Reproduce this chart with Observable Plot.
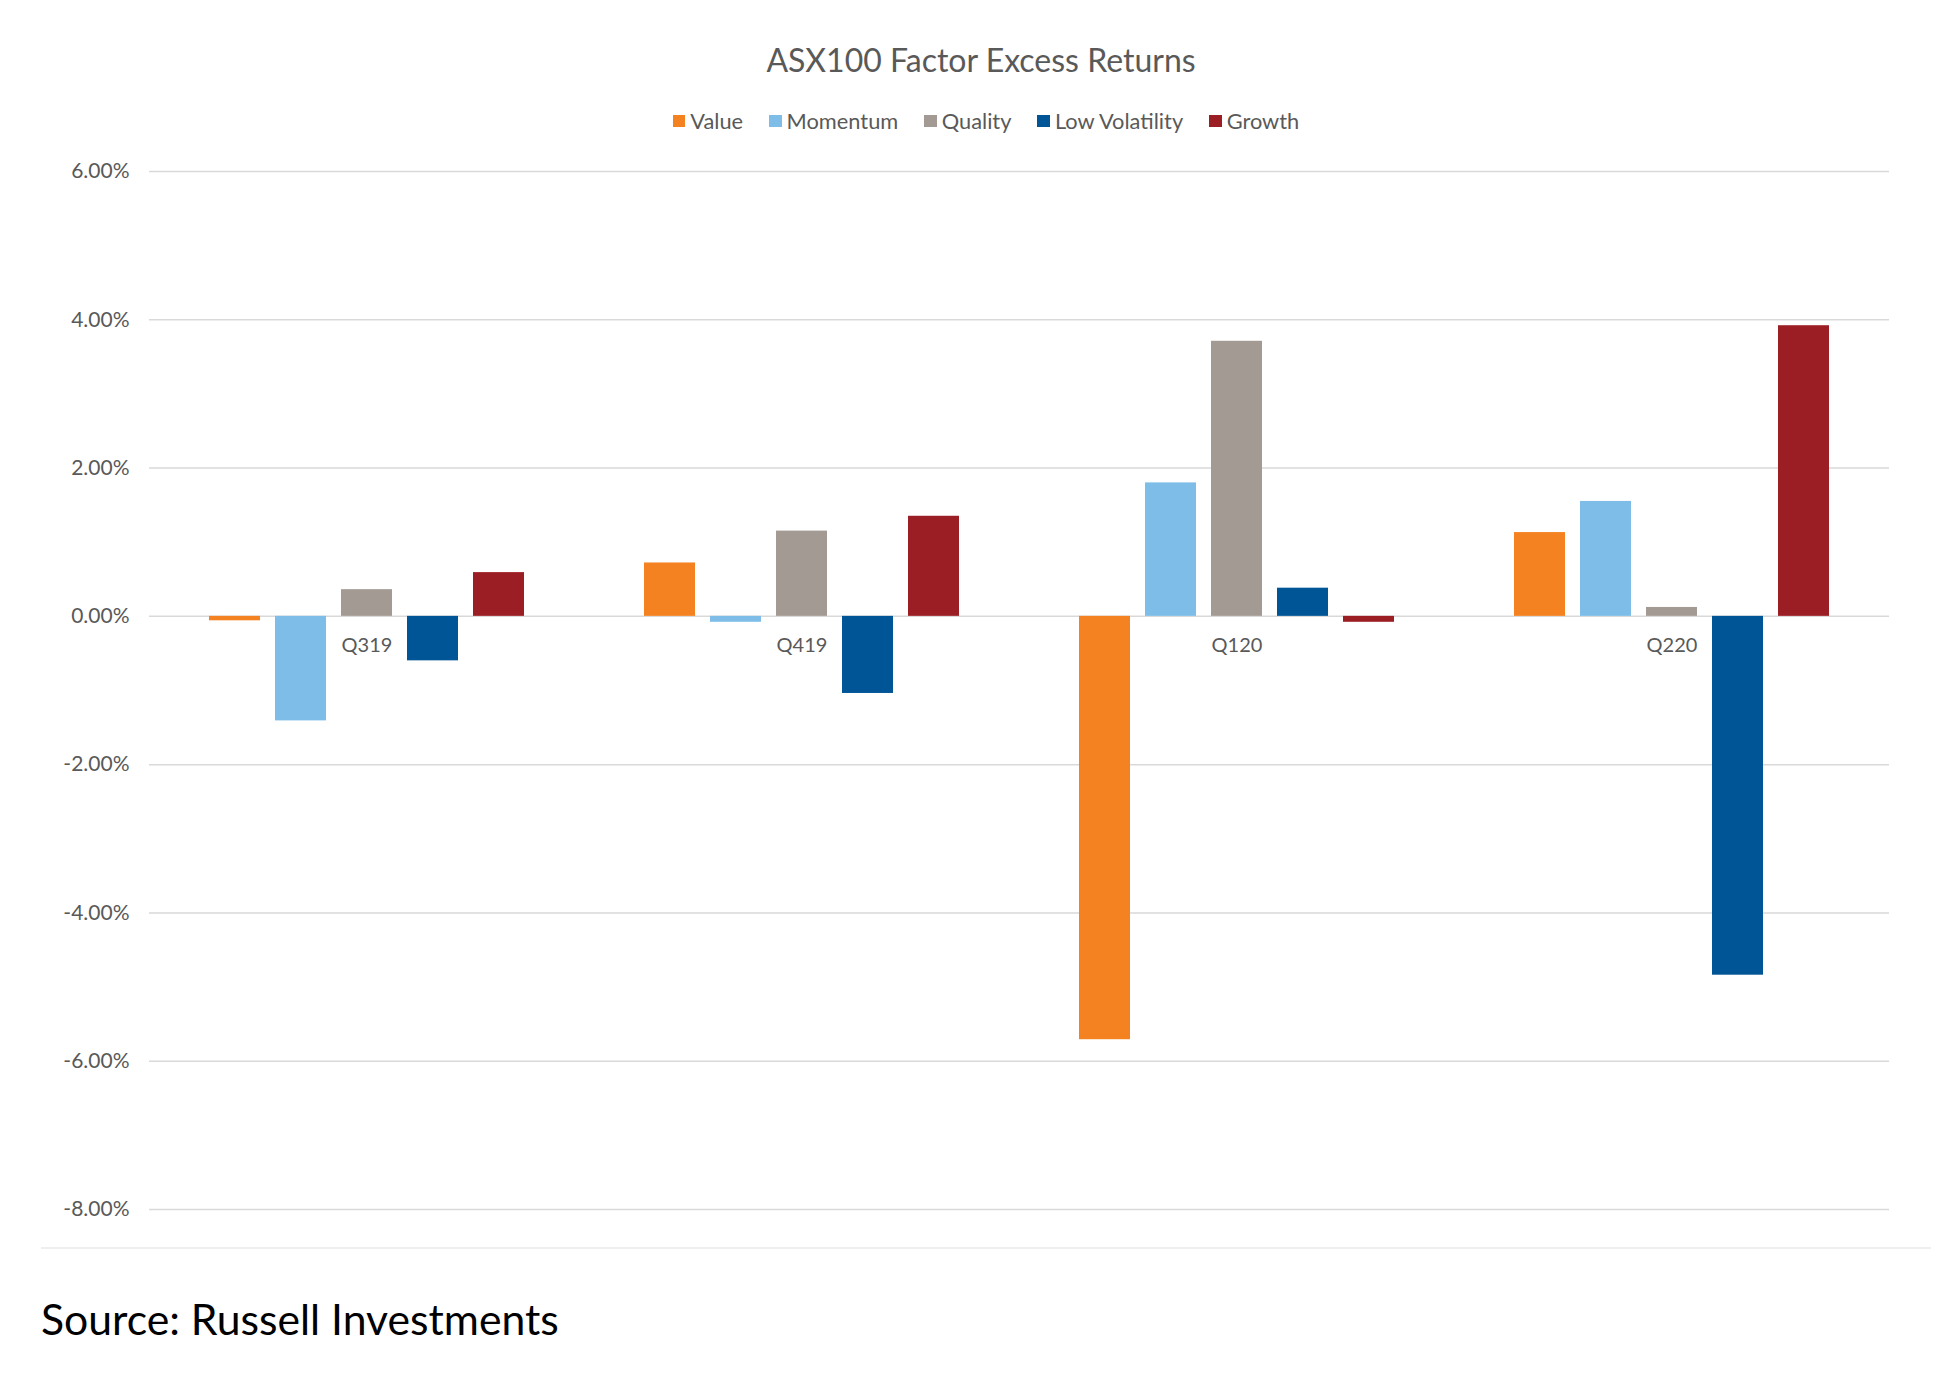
<!DOCTYPE html>
<html>
<head>
<meta charset="utf-8">
<script src="https://cdn.jsdelivr.net/npm/d3@7"></script>
<script src="https://cdn.jsdelivr.net/npm/@observablehq/plot@0.6"></script>
<style>
  html, body { margin: 0; padding: 0; background: #fff; }
  body { width: 1950px; height: 1395px; position: relative; font-family: Lato, "Open Sans", sans-serif; overflow: hidden; }
  #title { position: absolute; left: 36px; width: 1890px; top: 42px; text-align: center; font-size: 32px; line-height: 36px; color: #595959; }
  #legend { position: absolute; left: 41px; width: 1890px; top: 108px; display: flex; justify-content: center; gap: 26px; font-size: 21.8px; line-height: 26px; color: #595959; }
  #legend .item { display: flex; align-items: center; }
  #legend .sw { width: 12.5px; height: 12.5px; margin-right: 5px; }
  #chart { position: absolute; left: 0; top: 140px; }
  #sep { position: absolute; left: 41px; width: 1890px; top: 1247px; height: 2px; background: #efefef; }
  #source { position: absolute; left: 41px; top: 1297px; font-size: 42.7px; line-height: 44px; color: #000; }
</style>
</head>
<body>
<div id="title">ASX100 Factor Excess Returns</div>
<div id="legend"></div>
<div id="chart"></div>
<div id="sep"></div>
<div id="source">Source: Russell Investments</div>
<script>
const quarters = ["Q319", "Q419", "Q120", "Q220"];
const factors = ["Value", "Momentum", "Quality", "Low Volatility", "Growth"];
const value = [-0.06, 0.72, -5.71, 1.13];
const momentum = [-1.41, -0.08, 1.80, 1.55];
const quality = [0.36, 1.15, 3.71, 0.12];
const lowVolatility = [-0.60, -1.04, 0.38, -4.84];
const growth = [0.59, 1.35, -0.08, 3.92];
const colors = ["#F58220", "#7DBDE8", "#A39A94", "#005596", "#9B1E24"];
const yTicks = [-8, -6, -4, -2, 0, 2, 4, 6];

const series = [value, momentum, quality, lowVolatility, growth];
const data = quarters.flatMap((q, i) => factors.map((f, j) => ({quarter: q, factor: f, value: series[j][i]})));

const legend = document.getElementById("legend");
factors.forEach((f, j) => {
  const item = document.createElement("div");
  item.className = "item";
  const sw = document.createElement("span");
  sw.className = "sw";
  sw.style.background = colors[j];
  const t = document.createElement("span");
  t.textContent = f;
  item.appendChild(sw);
  item.appendChild(t);
  legend.appendChild(item);
});

const chart = Plot.plot({
  width: 1950,
  height: 1095,
  marginTop: 31,
  marginBottom: 26,
  marginLeft: 148,
  marginRight: 61,
  style: {fontFamily: "Lato, 'Open Sans', sans-serif", fontSize: "21px", color: "#595959", background: "transparent"},
  fx: {domain: quarters, padding: 0, axis: null},
  x: {domain: factors, paddingInner: 0.22, paddingOuter: 0.89, axis: null},
  y: {domain: [-8, 6], ticks: yTicks, tickFormat: d => d.toFixed(2) + "%", tickSize: 0, tickPadding: 20, label: null},
  color: {domain: factors, range: colors},
  marks: [
    Plot.ruleY(yTicks, {stroke: "#d9d9d9", strokeWidth: 1.5}),
    Plot.barY(data, {fx: "quarter", x: "factor", y: "value", fill: "factor"}),
    Plot.text(quarters, {fx: d => d, y: () => 0, text: d => d, dy: 29, frameAnchor: "middle", fill: "#595959", fontSize: 20})
  ]
});
document.getElementById("chart").appendChild(chart);
</script>
</body>
</html>
